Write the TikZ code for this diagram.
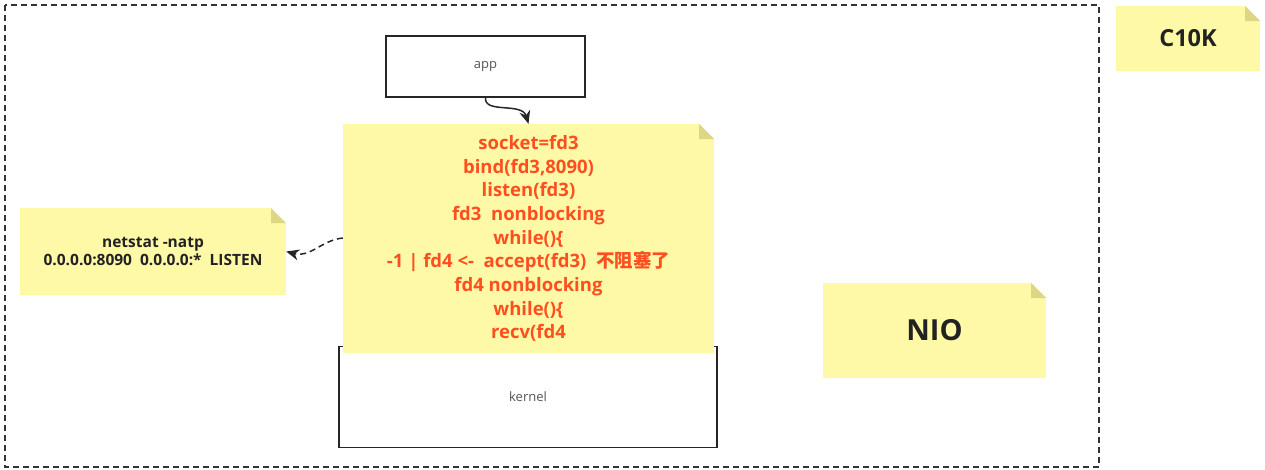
\documentclass[tikz,border=0pt]{standalone}
\usepackage{fontspec}
\setmainfont{Open Sans}
\newfontfamily\cjkb{Noto Sans CJK SC Bold}
\usetikzlibrary{arrows.meta}
\definecolor{noteY}{HTML}{FDF9A6}
\definecolor{foldY}{HTML}{DCD685}
\definecolor{redtxt}{HTML}{FF4E1F}
\definecolor{darktxt}{HTML}{222222}
\definecolor{graytxt}{HTML}{555555}
\tikzset{
  note/.style={fill=noteY, draw=none, inner sep=0pt, align=center,
    path picture={
      \fill[white] (path picture bounding box.north east) ++(-15pt,0pt) -- ++(15pt,0pt) -- ++(0pt,-15pt) -- cycle;
      \fill[foldY] (path picture bounding box.north east) ++(-15pt,0pt) -- ++(0pt,-15pt) -- ++(15pt,0pt) -- cycle;
    }},
  plainbox/.style={draw=black!85, line width=1.3pt, fill=white, inner sep=0pt, text=graytxt, font=\fontsize{13}{15}\selectfont},
  frame/.style={draw=black!80, line width=1.2pt, dash pattern=on 6pt off 4pt},
  link/.style={draw=black!85, line width=1.5pt, -{Stealth[length=13pt,width=11pt]}},
  dlink/.style={draw=black!85, line width=1.5pt, dash pattern=on 6pt off 4pt, -{Stealth[length=13pt,width=11pt]}}
}
\begin{document}
\begin{tikzpicture}[x=1pt,y=-1pt]
\useasboundingbox[fill=white] (0,0) rectangle (1265,469);
\draw[frame] (5,5) rectangle (1099,467);

\node[plainbox, minimum width=199pt, minimum height=61pt] (app) at (485.5,66.5) {app};
\node[plainbox, minimum width=378pt, minimum height=101pt] (kernel) at (528,397) {};
\node[text=graytxt, font=\fontsize{13}{15}\selectfont] (kl) at (528,397) {kernel};

\node[note, minimum width=371pt, minimum height=229pt, text=redtxt,
      font=\bfseries\fontsize{18.5}{23.7}\selectfont] (code) at (528.5,238.5)
 {socket=fd3\\bind(fd3,8090)\\listen(fd3)\\fd3\ \ nonblocking\\while()\{\\-1 | fd4 <-\ \ accept(fd3)\ \ {\cjkb 不阻塞了}\\fd4 nonblocking\\while()\{\\recv(fd4};

\node[note, minimum width=266pt, minimum height=87pt, text=darktxt,
      font=\bfseries\fontsize{15.5}{17.5}\selectfont] (netstat) at (153,251.5)
 {netstat -natp\\0.0.0.0:8090\ \ 0.0.0.0:*\ \ LISTEN};

\node[note, minimum width=144pt, minimum height=65pt, text=darktxt,
      font=\bfseries\fontsize{23.5}{26}\selectfont] (c10k) at (1188,38.5) {C10K};

\node[note, minimum width=223pt, minimum height=95pt, text=darktxt,
      font=\bfseries\fontsize{29}{32}\selectfont] (nio) at (934.5,330.5) {NIO};

\draw[link] (app.south) .. controls (484,114) and (522,102) .. (code.north);
\coordinate (dstart) at (code.west |- 0,238);
\draw[dlink] (dstart) .. controls (322,240) and (310,258) .. (netstat.east);
\end{tikzpicture}
\end{document}
